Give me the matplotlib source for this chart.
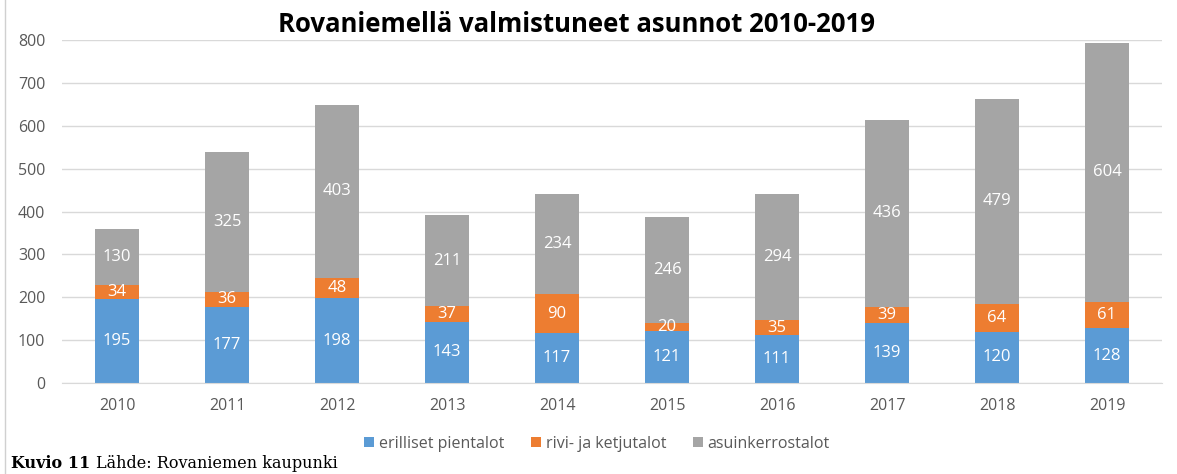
import numpy as np
import matplotlib.pyplot as plt

# --- Data ---
years = ["2010", "2011", "2012", "2013", "2014", "2015", "2016", "2017", "2018", "2019"]
erilliset = [195, 177, 198, 143, 117, 121, 111, 139, 120, 128]
rivi = [34, 36, 48, 37, 90, 20, 35, 39, 64, 61]
kerros = [130, 325, 403, 211, 234, 246, 294, 436, 479, 604]
series_names = ["erilliset pientalot", "rivi- ja ketjutalot", "asuinkerrostalot"]
colors = ["#5B9BD5", "#ED7D31", "#A5A5A5"]

# --- Plot ---
fig = plt.figure(figsize=(11.77, 4.74), dpi=100)
ax = fig.add_axes([62 / 1177, 1 - 383 / 474, 1100 / 1177, 343 / 474])

x = np.arange(len(years))
bottom = np.zeros(len(years))
for vals, name, col in zip([erilliset, rivi, kerros], series_names, colors):
    bars = ax.bar(x, vals, width=0.4, bottom=bottom, color=col, label=name, zorder=2)
    ax.bar_label(bars, labels=[str(v) for v in vals], label_type="center",
                 color="white", fontsize=12, family="Open Sans")
    bottom += np.array(vals)

ax.set_xlim(-0.5, len(years) - 0.5)
ax.set_ylim(0, 800)
ax.set_yticks(range(0, 801, 100))
ax.set_xticks(x)
ax.set_xticklabels(years)
ax.grid(axis="y", color="#D9D9D9", linewidth=1, zorder=0)
for s in ["top", "right", "left"]:
    ax.spines[s].set_visible(False)
ax.spines["bottom"].set_color("#D9D9D9")
ax.tick_params(length=0, colors="#595959", labelsize=11.5)
ax.tick_params(axis="x", pad=11)
ax.tick_params(axis="y", pad=12)
for lab in ax.get_xticklabels() + ax.get_yticklabels():
    lab.set_family("Open Sans")

fig.text(577 / 1177, 1 - 25 / 474, "Rovaniemellä valmistuneet asunnot 2010-2019",
         ha="center", va="center", fontsize=18.5, fontweight="bold", family="Open Sans")

ax.legend(loc="center", bbox_to_anchor=(597 / 1177, 1 - 444 / 474),
          bbox_transform=fig.transFigure, ncol=3, frameon=False,
          handlelength=0.6, handleheight=0.6, handletextpad=0.3, columnspacing=1.7,
          prop={"family": "Open Sans", "size": 11.5}, labelcolor="#595959")

# frame line on the left
fig.add_artist(plt.Line2D([5 / 1177, 5 / 1177], [0, 1], color="#D0D0D0", linewidth=1))

# caption: bold part then the rest right after it
cap_y = 1 - 463 / 474
t1 = fig.text(11 / 1177, cap_y, "Kuvio 11", ha="left", va="center",
              fontsize=11.5, fontweight="bold", family="DejaVu Serif")
renderer = fig.canvas.get_renderer()
x_end = t1.get_window_extent(renderer).x1
fig.text((x_end + 6) / 1177, cap_y, "Lähde: Rovaniemen kaupunki", ha="left", va="center",
         fontsize=11.5, family="DejaVu Serif")

plt.savefig("out.png", dpi=100)
